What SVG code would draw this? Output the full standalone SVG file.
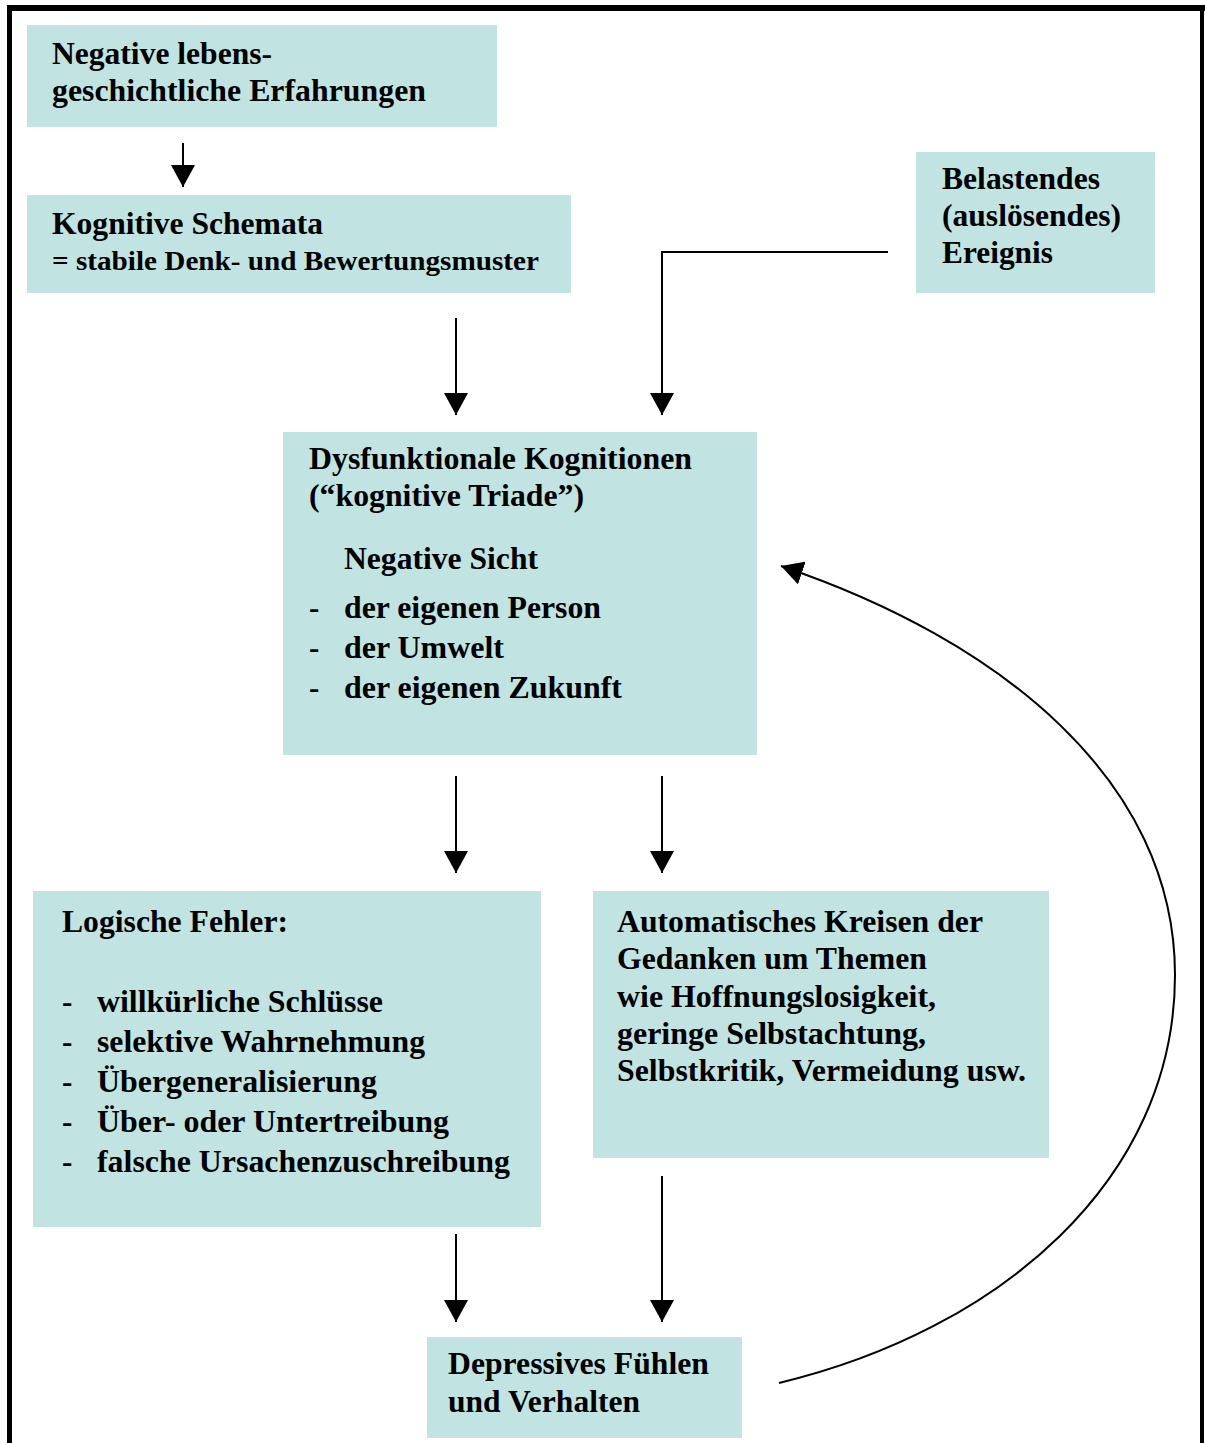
<svg xmlns="http://www.w3.org/2000/svg" width="1205" height="1443" viewBox="0 0 1205 1443">
<style>
.box{fill:#c1e4e2}
.t{font-family:"Liberation Serif","Times New Roman",serif;font-weight:bold;font-size:31px;fill:#000}
.s{font-size:27.5px}
.c{fill:none;stroke:#000;stroke-width:2}
</style>
<defs>
<marker id="ah" viewBox="0 0 22 24" refX="22" refY="12" markerWidth="22" markerHeight="24" markerUnits="userSpaceOnUse" orient="auto">
<path d="M0,0 L22,12 L0,24 z" fill="#000"/>
</marker>
</defs>
<rect width="1205" height="1443" fill="#fff"/>
<g id="frame" fill="#000">
<rect x="7" y="5" width="1198" height="6"/>
<rect x="7" y="5" width="5" height="1438"/>
<rect x="1200" y="5" width="4" height="1438"/>
</g>
<g id="connectors">
<line class="c" x1="183" y1="143" x2="183" y2="187" marker-end="url(#ah)"/>
<line class="c" x1="456" y1="318" x2="456" y2="415" marker-end="url(#ah)"/>
<polyline class="c" points="888,252 662,252 662,415" marker-end="url(#ah)"/>
<line class="c" x1="456" y1="776" x2="456" y2="873" marker-end="url(#ah)"/>
<line class="c" x1="662" y1="776" x2="662" y2="873" marker-end="url(#ah)"/>
<line class="c" x1="456" y1="1234" x2="456" y2="1322" marker-end="url(#ah)"/>
<line class="c" x1="662" y1="1176" x2="662" y2="1322" marker-end="url(#ah)"/>
<path class="c" stroke-width="2.5" d="M779,1383 C1000,1330 1175,1180 1175,975 C1175,780 1000,640 781,566" marker-end="url(#ah)"/>
</g>
<g id="n1">
<rect class="box" x="27" y="25" width="470" height="102"/>
<text class="t" x="52" y="64" textLength="220" lengthAdjust="spacingAndGlyphs">Negative lebens-</text>
<text class="t" x="52" y="101" textLength="374" lengthAdjust="spacingAndGlyphs">geschichtliche Erfahrungen</text>
</g>
<g id="n2">
<rect class="box" x="27" y="195" width="544" height="98"/>
<text class="t" x="52" y="234" textLength="271" lengthAdjust="spacingAndGlyphs">Kognitive Schemata</text>
<text class="t s" x="52" y="270" textLength="487" lengthAdjust="spacingAndGlyphs">= stabile Denk- und Bewertungsmuster</text>
</g>
<g id="n3">
<rect class="box" x="916" y="152" width="239" height="141"/>
<text class="t" x="942" y="189" textLength="158" lengthAdjust="spacingAndGlyphs">Belastendes</text>
<text class="t" x="942" y="226" textLength="179" lengthAdjust="spacingAndGlyphs">(auslösendes)</text>
<text class="t" x="942" y="263" textLength="111" lengthAdjust="spacingAndGlyphs">Ereignis</text>
</g>
<g id="n4">
<rect class="box" x="283" y="432" width="474" height="323"/>
<text class="t" x="309" y="469" textLength="383" lengthAdjust="spacingAndGlyphs">Dysfunktionale Kognitionen</text>
<text class="t" x="309" y="506" textLength="275" lengthAdjust="spacingAndGlyphs">(“kognitive Triade”)</text>
<text class="t" x="344" y="569" textLength="194" lengthAdjust="spacingAndGlyphs">Negative Sicht</text>
<text class="t" x="309" y="618">-</text>
<text class="t" x="344" y="618" textLength="257" lengthAdjust="spacingAndGlyphs">der eigenen Person</text>
<text class="t" x="309" y="658">-</text>
<text class="t" x="344" y="658" textLength="160" lengthAdjust="spacingAndGlyphs">der Umwelt</text>
<text class="t" x="309" y="698">-</text>
<text class="t" x="344" y="698" textLength="278" lengthAdjust="spacingAndGlyphs">der eigenen Zukunft</text>
</g>
<g id="n5">
<rect class="box" x="33" y="891" width="508" height="336"/>
<text class="t" x="62" y="932" textLength="226" lengthAdjust="spacingAndGlyphs">Logische Fehler:</text>
<text class="t" x="62" y="1012">-</text>
<text class="t" x="97" y="1012" textLength="286" lengthAdjust="spacingAndGlyphs">willkürliche Schlüsse</text>
<text class="t" x="62" y="1052">-</text>
<text class="t" x="97" y="1052" textLength="328" lengthAdjust="spacingAndGlyphs">selektive Wahrnehmung</text>
<text class="t" x="62" y="1092">-</text>
<text class="t" x="97" y="1092" textLength="280" lengthAdjust="spacingAndGlyphs">Übergeneralisierung</text>
<text class="t" x="62" y="1132">-</text>
<text class="t" x="97" y="1132" textLength="352" lengthAdjust="spacingAndGlyphs">Über- oder Untertreibung</text>
<text class="t" x="62" y="1172">-</text>
<text class="t" x="97" y="1172" textLength="413" lengthAdjust="spacingAndGlyphs">falsche Ursachenzuschreibung</text>
</g>
<g id="n6">
<rect class="box" x="593" y="891" width="456" height="267"/>
<text class="t" x="617" y="932" textLength="366" lengthAdjust="spacingAndGlyphs">Automatisches Kreisen der</text>
<text class="t" x="617" y="969" textLength="310" lengthAdjust="spacingAndGlyphs">Gedanken um Themen</text>
<text class="t" x="617" y="1007" textLength="319" lengthAdjust="spacingAndGlyphs">wie Hoffnungslosigkeit,</text>
<text class="t" x="617" y="1044" textLength="309" lengthAdjust="spacingAndGlyphs">geringe Selbstachtung,</text>
<text class="t" x="617" y="1081" textLength="409" lengthAdjust="spacingAndGlyphs">Selbstkritik, Vermeidung usw.</text>
</g>
<g id="n7">
<rect class="box" x="427" y="1337" width="315" height="101"/>
<text class="t" x="448" y="1374" textLength="261" lengthAdjust="spacingAndGlyphs">Depressives Fühlen</text>
<text class="t" x="448" y="1412" textLength="192" lengthAdjust="spacingAndGlyphs">und Verhalten</text>
</g>
</svg>
